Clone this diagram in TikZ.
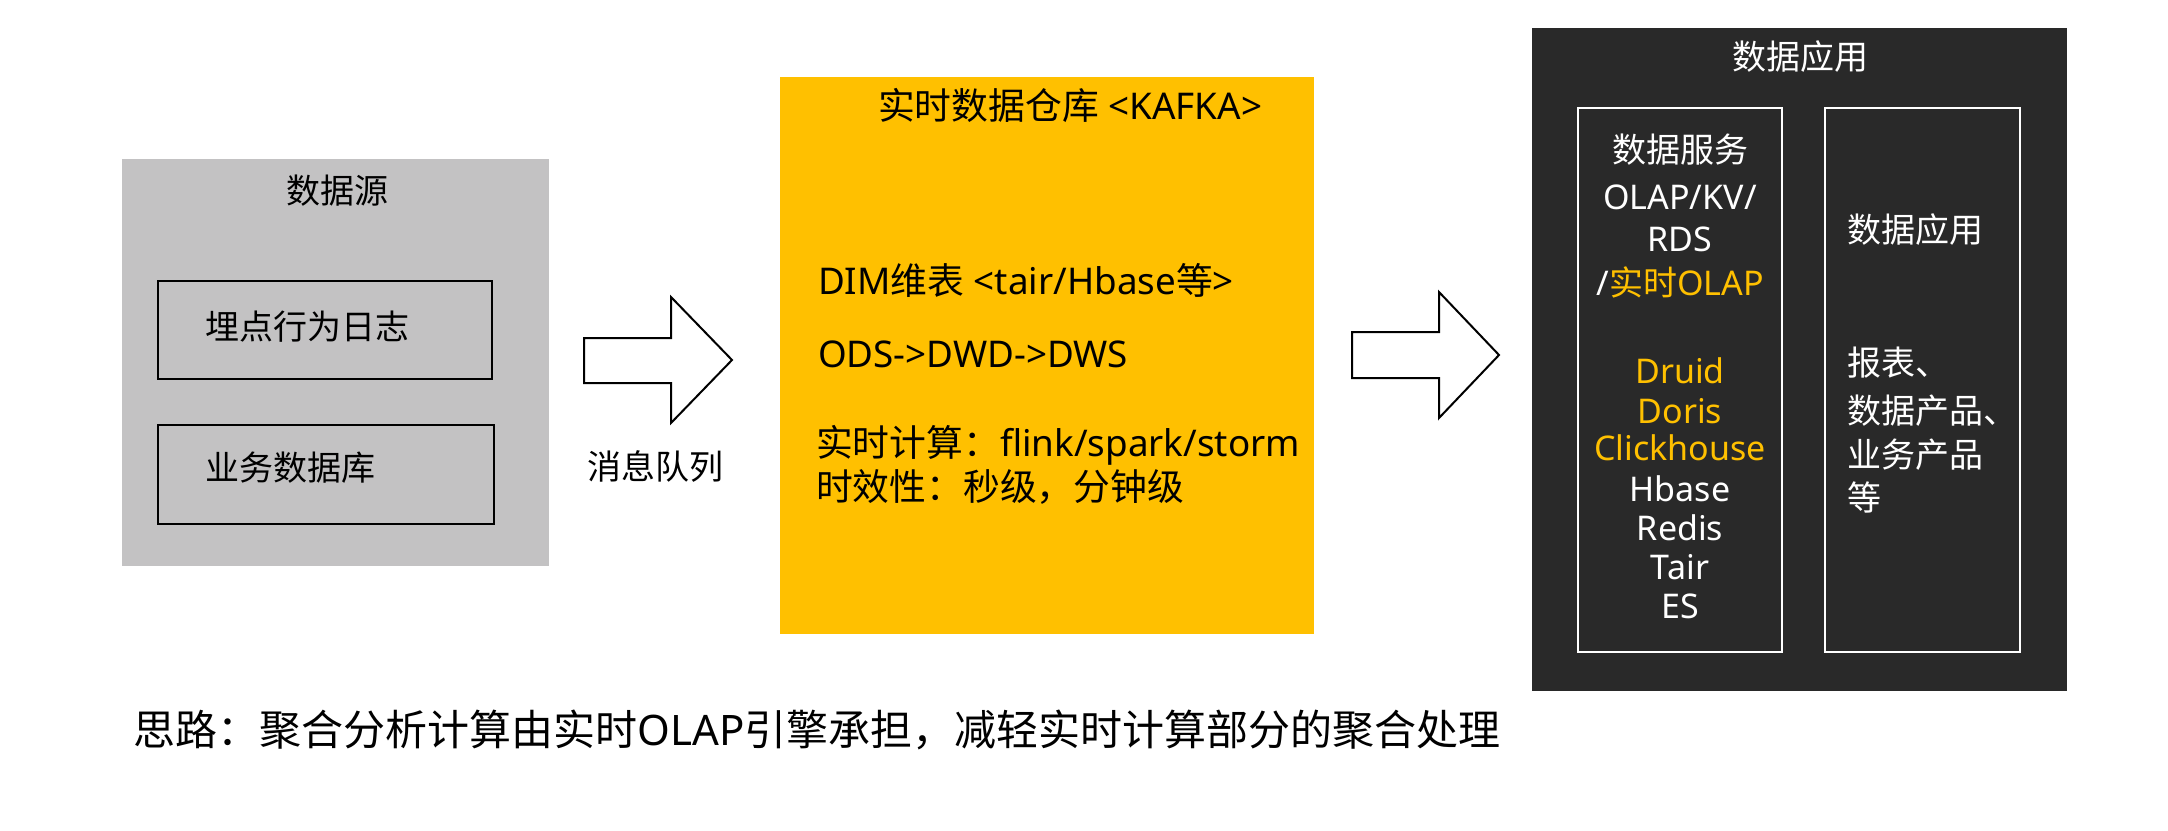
\documentclass[tikz,border=0pt]{standalone}
\usepackage{fontspec}
\setmainfont{Noto Sans}
\newfontfamily\zhfont{Noto Sans CJK SC}
\newcommand\zh[1]{{\zhfont #1}}
\definecolor{srcgray}{RGB}{195,194,195}
\definecolor{dwyellow}{RGB}{255,192,0}
\definecolor{appdark}{RGB}{41,41,41}
\tikzset{
  txt/.style={font=\fontsize{17}{20}\selectfont, inner sep=0pt, outer sep=0pt},
  ytxt/.style={font=\fontsize{18.4}{21}\selectfont, inner sep=0pt, outer sep=0pt, anchor=base west},
  wtxt/.style={txt, text=white, anchor=base},
  blockarrow/.style={draw=black, line width=1pt, fill=white, line join=miter},
  innerbox/.style={line width=1.2pt},
}
\begin{document}
\begin{tikzpicture}[x=0.5pt,y=-0.5pt]
\useasboundingbox[fill=white] (0,0) rectangle (2168,830);
% data source
\fill[srcgray] (122,159) rectangle (549,566);
\node[txt,anchor=base] (srctitle) at (337,203) {\zh{数据源}};
\draw[innerbox,draw=black] (158,281) rectangle (492,379);
\node[txt,anchor=base west] (log) at (205,339) {\zh{埋点行为日志}};
\draw[innerbox,draw=black] (158,425) rectangle (494,524);
\node[txt,anchor=base west] (db) at (205,480) {\zh{业务数据库}};
% arrow 1
\draw[blockarrow] (584,338) -- (671,338) -- (671,297) -- (732,360) -- (671,423) -- (671,383) -- (584,383) -- cycle;
\node[txt,anchor=base] (mq) at (655,479) {\zh{消息队列}};
% warehouse
\fill[dwyellow] (780,77) rectangle (1314,634);
\node[ytxt] (dwtitle) at (878,119) {\zh{实时数据仓库} <KAFKA>};
\node[ytxt] (dim) at (818,294) {DIM\zh{维表} <tair/Hbase\zh{等}>};
\node[ytxt] (ods) at (818,367) {ODS->DWD->DWS};
\node[ytxt] (calc) at (816,456) {\zh{实时计算：}flink/spark/storm};
\node[ytxt] (lat) at (816,500) {\zh{时效性：秒级，分钟级}};
% arrow 2
\draw[blockarrow] (1352,332) -- (1439,332) -- (1439,292) -- (1499,355) -- (1439,418) -- (1439,378) -- (1352,378) -- cycle;
% data application
\fill[appdark] (1532,28) rectangle (2067,691);
\node[wtxt] (apptitle) at (1800,69) {\zh{数据应用}};
\draw[innerbox,draw=white] (1578,108) rectangle (1782,652);
\draw[innerbox,draw=white] (1825,108) rectangle (2020,652);
\node[wtxt] (svc) at (1680,162) {\zh{数据服务}};
\node[wtxt] (olap) at (1680,209) {OLAP/KV/};
\node[wtxt] (rds) at (1680,251) {RDS};
\node[wtxt] (rtolap) at (1680,295) {/\textcolor{dwyellow}{\zh{实时}OLAP}};
\node[wtxt,text=dwyellow] (druid) at (1680,383) {Druid};
\node[wtxt,text=dwyellow] (doris) at (1680,423) {Doris};
\node[wtxt,text=dwyellow] (ch) at (1680,460) {Clickhouse};
\node[wtxt] (hbase) at (1680,501) {Hbase};
\node[wtxt] (redis) at (1680,540) {Redis};
\node[wtxt] (tair) at (1680,579) {Tair};
\node[wtxt] (es) at (1680,618) {ES};
\node[wtxt,anchor=base west] (app) at (1847,242) {\zh{数据应用}};
\node[wtxt,anchor=base west] (rep) at (1847,375) {\zh{报表、}};
\node[wtxt,anchor=base west] (prod) at (1847,423) {\zh{数据产品、}};
\node[wtxt,anchor=base west] (biz) at (1847,467) {\zh{业务产品}};
\node[wtxt,anchor=base west] (etc) at (1847,510) {\zh{等}};
% note
\node[font=\fontsize{21}{24}\selectfont, inner sep=0pt, anchor=base west] (note) at (133,745) {\zh{思路：聚合分析计算由实时}OLAP\zh{引擎承担，减轻实时计算部分的聚合处理}};
\end{tikzpicture}
\end{document}
